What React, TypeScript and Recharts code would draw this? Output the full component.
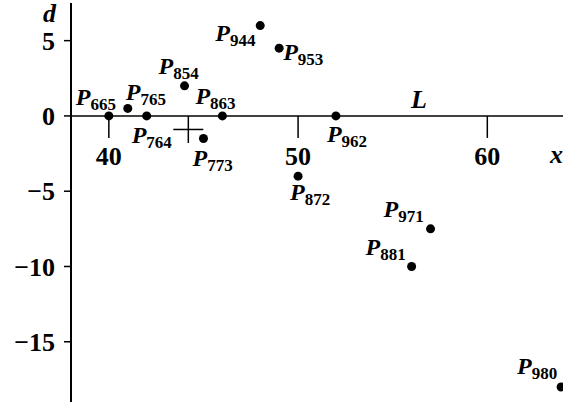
import { ScatterChart, Scatter, XAxis, YAxis, ReferenceLine } from 'recharts'

const FONT = '"Liberation Serif", "Times New Roman", serif'

// point subscripts, x position and deviation d
const NAMES = ['665', '765', '764', '854', '863', '773', '944', '953', '962', '872', '971', '881', '980']
const X_VALUES = [40, 41, 42, 44, 46, 45, 48, 49, 52, 50, 57, 56, 63.9]
const D_VALUES = [0, 0.5, 0, 2, 0, -1.5, 6, 4.5, 0, -4, -7.5, -10, -18]

const X_TICKS = [40, 50, 60]
const Y_TICKS = [-15, -10, -5, 0, 5]
const CROSS = [{ x: 44.2, y: -0.9 }]

// where each label sits relative to its dot (px)
const LABEL_OFFSET: Record<string, [number, number]> = {
  '665': [-33, -11],
  '765': [-2, -8],
  '764': [-15, 27],
  '854': [-26, -12],
  '863': [-27, -12],
  '773': [-11, 27],
  '944': [-45, 15],
  '953': [4, 12],
  '962': [-9, 26],
  '872': [-8, 24],
  '971': [-47, -12],
  '881': [-46, -11],
  '980': [-44, -13],
}

const points = NAMES.map((name, i) => ({ name, x: X_VALUES[i], y: D_VALUES[i] }))
const tickPoints = X_TICKS.map(x => ({ x, y: 0 }))

const fmt = (v: number) => (v < 0 ? '\u2212' + Math.abs(v) : String(v))

const PointShape = (props: any) => {
  const { cx, cy, payload } = props
  const [dx, dy] = LABEL_OFFSET[payload.name] ?? [0, -10]
  return (
    <g>
      <circle cx={cx} cy={cy} r={4.5} fill="#000" />
      <text x={cx + dx} y={cy + dy} fontFamily={FONT} fontWeight="bold" fill="#000">
        <tspan fontStyle="italic" fontSize={24}>P</tspan>
        <tspan fontSize={17} dy={5}>{payload.name}</tspan>
      </text>
    </g>
  )
}

const XTickShape = (props: any) => {
  const { cx, cy, payload } = props
  return (
    <g>
      <line x1={cx} y1={cy} x2={cx} y2={cy + 22} stroke="#000" strokeWidth={1.5} />
      <text x={cx} y={cy + 49} textAnchor="middle" fontFamily={FONT} fontWeight="bold" fontSize={26} fill="#000">
        {fmt(payload.x)}
      </text>
    </g>
  )
}

const CrossShape = (props: any) => {
  const { cx, cy } = props
  return (
    <g stroke="#000" strokeWidth={1.5}>
      <line x1={cx - 15} y1={cy} x2={cx + 15} y2={cy} />
      <line x1={cx} y1={cy - 13.5} x2={cx} y2={cy + 13.5} />
    </g>
  )
}

export default function App() {
  return (
    <div style={{ position: 'absolute', left: 0, top: 0, background: '#fff' }}>
      <ScatterChart width={563} height={407} margin={{ top: 3, right: 0, bottom: 5, left: 0 }}>
        <XAxis type="number" dataKey="x" domain={[38, 64]} hide allowDataOverflow />
        <YAxis
          type="number" dataKey="y" domain={[-19, 7.5]} ticks={Y_TICKS} width={71}
          allowDataOverflow
          axisLine={{ stroke: '#000', strokeWidth: 2 }}
          tickLine={{ stroke: '#000', strokeWidth: 1.5 }}
          tickSize={7} tickMargin={9}
          tickFormatter={fmt}
          tick={{ fontFamily: FONT, fontWeight: 'bold', fontSize: 26, fill: '#000' }}
          label={{
            content: ({ viewBox }: any) => (
              <text x={viewBox.x + 43} y={viewBox.y + 19} fontFamily={FONT} fontWeight="bold"
                fontStyle="italic" fontSize={26} fill="#000">d</text>
            ),
          }}
        />
        <ReferenceLine
          y={0} stroke="#000" strokeWidth={1.5}
          label={{
            content: ({ viewBox }: any) => (
              <g fontFamily={FONT} fontWeight="bold" fontStyle="italic" fontSize={26} fill="#000">
                <text x={viewBox.x + 340} y={viewBox.y - 8}>L</text>
                <text x={viewBox.x + viewBox.width - 13} y={viewBox.y + 47}>x</text>
              </g>
            ),
          }}
        />
        <Scatter data={tickPoints} shape={XTickShape} isAnimationActive={false} />
        <Scatter data={CROSS} shape={CrossShape} isAnimationActive={false} />
        <Scatter data={points} shape={PointShape} isAnimationActive={false} />
      </ScatterChart>
    </div>
  )
}
